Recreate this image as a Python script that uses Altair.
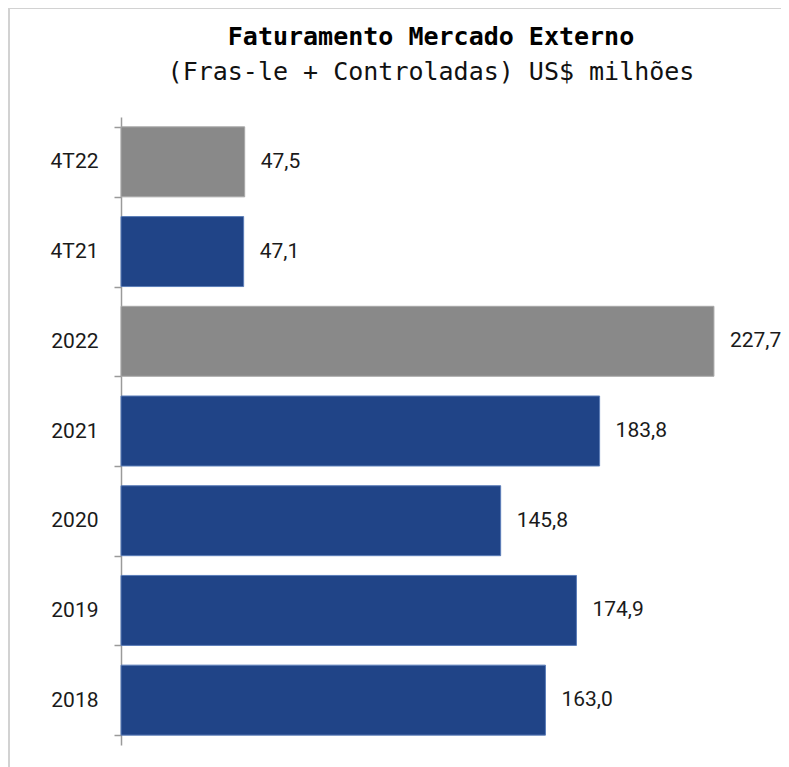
import altair as alt
import pandas as pd

categories = ["4T22", "4T21", "2022", "2021", "2020", "2019", "2018"]
values = [47.5, 47.1, 227.7, 183.8, 145.8, 174.9, 163.0]
kinds = ["destaque", "base", "destaque", "base", "base", "base", "base"]
labels = ["47,5", "47,1", "227,7", "183,8", "145,8", "174,9", "163,0"]

title_text = "Faturamento Mercado Externo"
subtitle_text = "(Fras-le + Controladas) US$ milhões"

df = pd.DataFrame({"cat": categories, "value": values, "kind": kinds, "label": labels})
frame_df = pd.DataFrame({"a": [0]})
title_df = pd.DataFrame({"t": [title_text]})
subtitle_df = pd.DataFrame({"t": [subtitle_text]})

W, H = 651, 628

y_enc = alt.Y(
    "cat:N",
    sort=categories,
    scale=alt.Scale(paddingInner=0.22, paddingOuter=0.11),
    axis=alt.Axis(
        title=None, labelFont="Roboto", labelFontSize=21, labelColor="#1a1a1a",
        tickBand="extent", tickSize=7, tickColor="#9a9a9a", tickWidth=1.5,
        domainColor="#9a9a9a", domainWidth=1.5, labelPadding=16, grid=False,
    ),
)
x_enc = alt.X("value:Q", scale=alt.Scale(domain=[0, 250]), axis=None)

base = alt.Chart(df)

bars = base.mark_bar(strokeWidth=1).encode(
    x=x_enc,
    y=y_enc,
    fill=alt.Fill("kind:N", scale=alt.Scale(domain=["destaque", "base"], range=["#898989", "#204487"]), legend=None),
    stroke=alt.Stroke("kind:N", scale=alt.Scale(domain=["destaque", "base"], range=["#a8a8a8", "#5b7db8"]), legend=None),
)

text = base.mark_text(align="left", baseline="middle", dx=16, font="Roboto", fontSize=21, color="#1a1a1a").encode(
    x=x_enc, y=y_enc, text="label:N"
)

frame_left = alt.Chart(frame_df).mark_rule(color="#d2d2d2", strokeWidth=2).encode(
    x=alt.value(-112), y=alt.value(-108), y2=alt.value(660)
)
frame_top = alt.Chart(frame_df).mark_rule(color="#d2d2d2", strokeWidth=2).encode(
    x=alt.value(-113), x2=alt.value(700), y=alt.value(-109)
)

title_mark = alt.Chart(title_df).mark_text(
    align="center", baseline="alphabetic", font="DejaVu Sans Mono", fontSize=25,
    fontWeight="bold", color="#000000",
).encode(x=alt.value(310), y=alt.value(-72), text="t:N")

subtitle_mark = alt.Chart(subtitle_df).mark_text(
    align="center", baseline="alphabetic", font="DejaVu Sans Mono", fontSize=25,
    color="#111111",
).encode(x=alt.value(310), y=alt.value(-37), text="t:N")

chart = alt.layer(frame_left, frame_top, title_mark, subtitle_mark, bars, text).properties(
    width=W,
    height=H,
    autosize=alt.AutoSizeParams(type="none"),
    padding={"left": 113, "top": 109, "right": 9, "bottom": 22},
).configure_view(stroke=None)

chart.save("out.html", embed_options={"renderer": "svg", "actions": False})
